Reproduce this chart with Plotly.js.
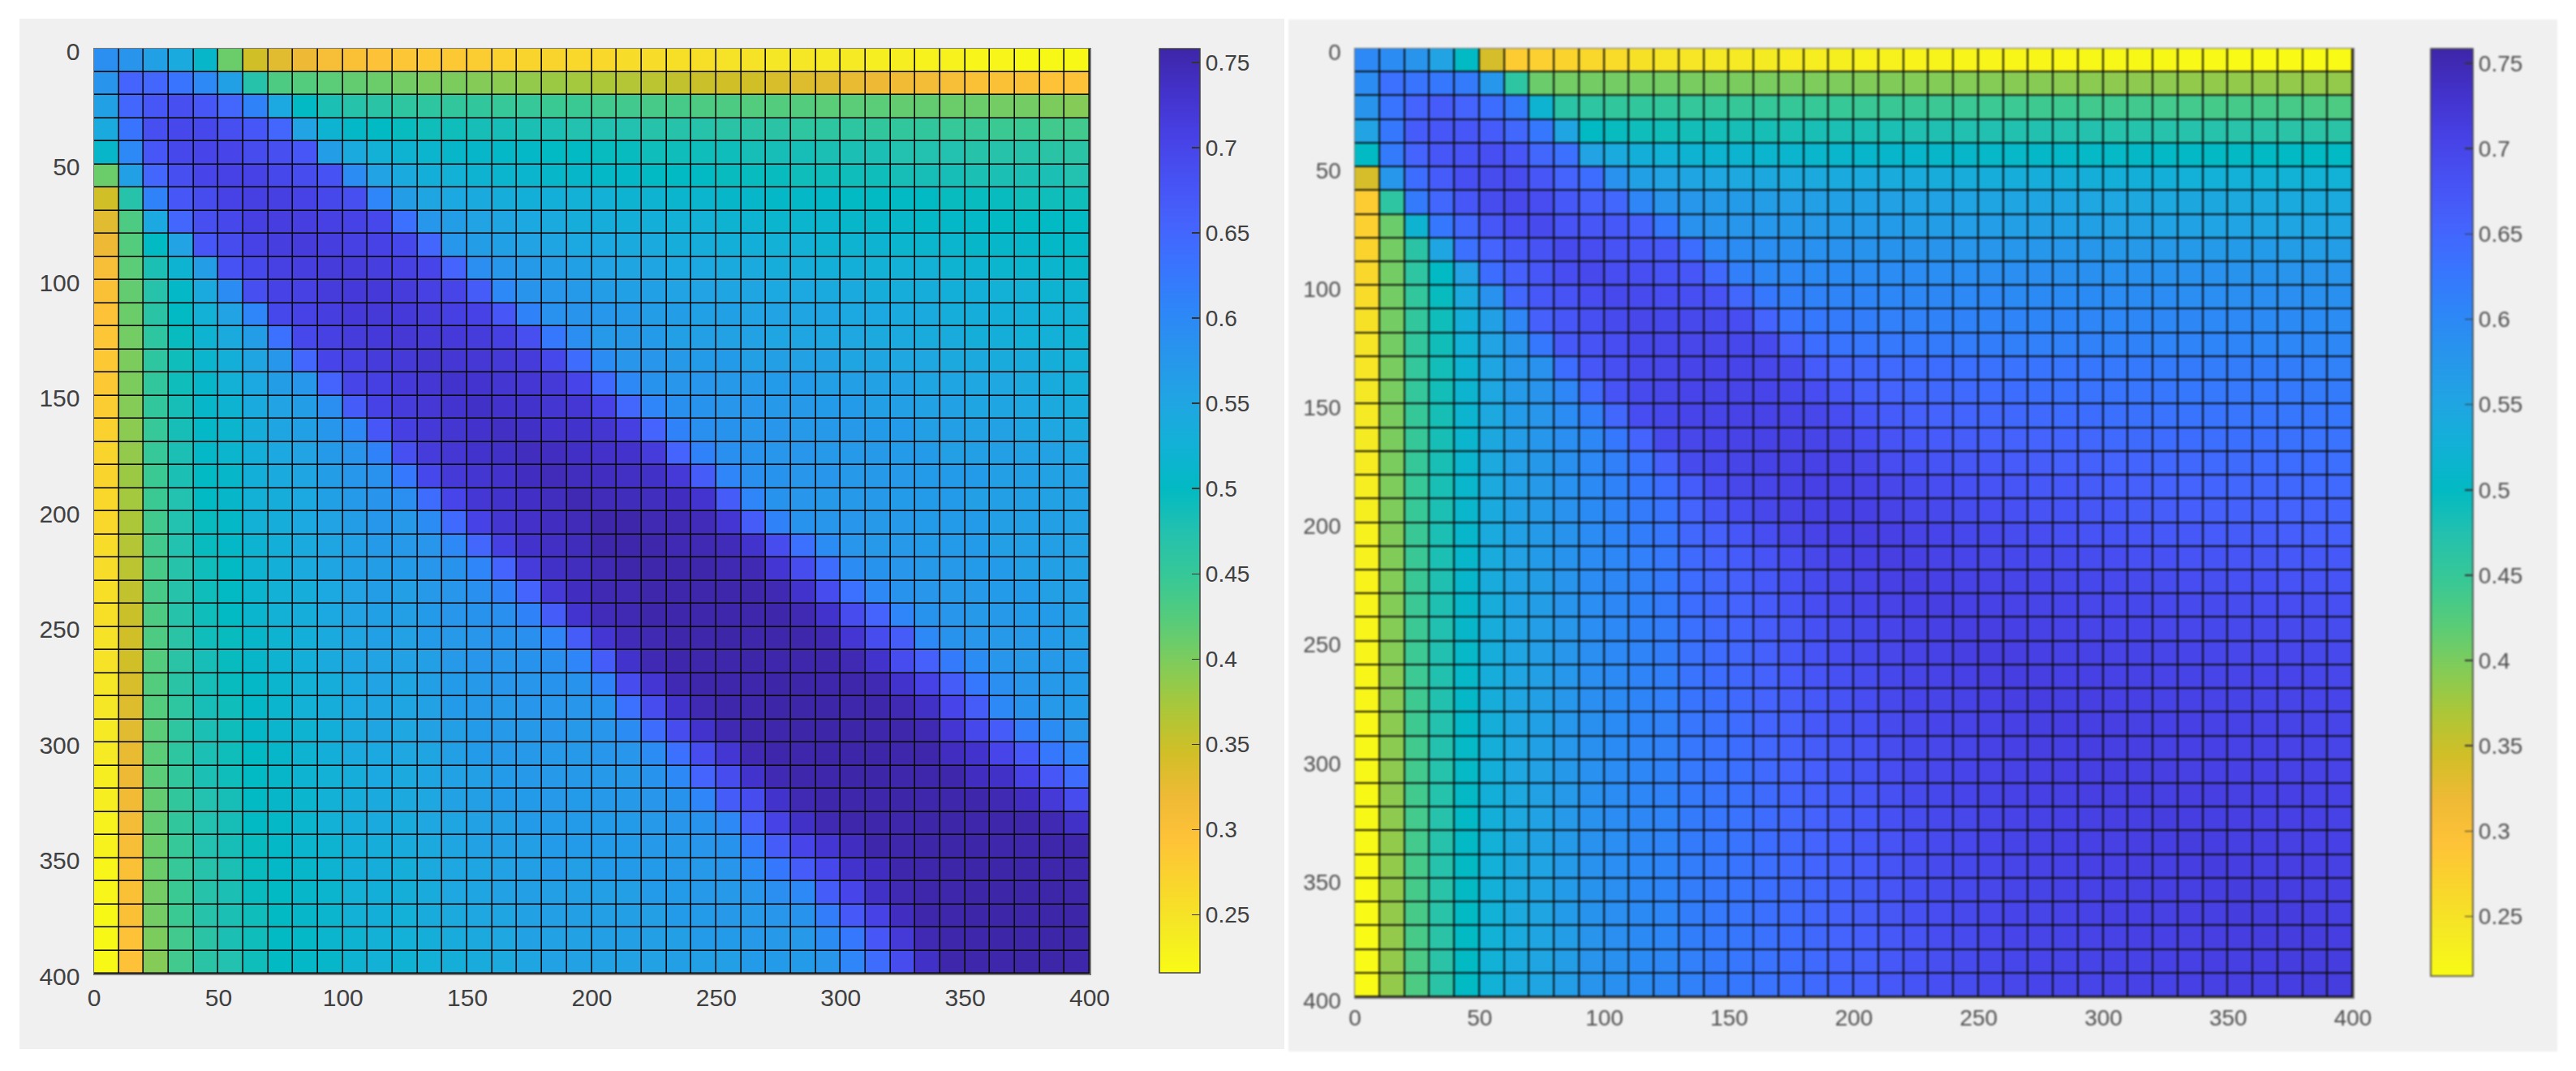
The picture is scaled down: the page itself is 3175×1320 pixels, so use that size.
<!DOCTYPE html>
<html><head><meta charset="utf-8">
<script src="https://cdn.plot.ly/plotly-3.0.1.min.js"></script>
<style>
html,body{margin:0;padding:0;background:#fff;width:3175px;height:1320px;overflow:hidden}
#a,#b{position:absolute}
#a{left:24px;top:23px;width:1559px;height:1270px}
#b{left:1588px;top:24px;width:1564px;height:1272px;filter:blur(1.1px)}
</style></head><body><div id="a"></div><div id="b"></div>
<script>
const leftUpper = [
[590,580,560,540,510,410,345,330,320,305,300,295,290,285,285,280,275,270,270,265,265,260,260,255,255,250,250,245,245,240,240,235,235,230,230,225,225,220,220,220],
[655,650,630,600,560,470,430,425,420,415,410,405,400,400,395,390,385,380,375,370,365,360,355,350,345,345,340,335,330,325,320,315,310,305,300,300,300,295,295],
[675,685,675,650,610,545,500,480,470,465,460,460,455,455,450,450,445,445,440,440,435,435,430,430,425,425,425,420,420,420,415,415,410,410,405,405,400,395],
[695,695,685,675,650,555,520,505,500,495,490,490,485,485,480,480,475,475,475,470,470,470,465,465,465,460,460,460,455,455,455,450,450,445,445,440,440],
[700,700,690,685,675,565,540,525,520,515,510,510,505,505,500,500,495,495,490,490,490,490,485,485,485,480,480,480,475,475,475,470,470,470,465,465],
[705,705,695,690,680,595,555,540,530,525,520,515,515,510,510,505,505,500,500,500,495,495,495,490,490,490,490,485,485,485,480,480,480,480,475],
[710,710,705,695,685,605,565,550,545,540,535,530,530,525,525,520,520,515,515,510,510,505,505,505,500,500,500,500,495,495,495,490,490,490],
[712,712,708,705,695,635,575,565,555,550,545,540,535,535,530,530,525,525,520,520,515,515,515,510,510,510,505,505,505,500,500,500,500],
[715,712,708,705,695,650,575,565,560,555,550,545,545,540,540,535,535,530,530,525,525,520,520,520,515,515,515,510,510,510,505,505],
[715,715,712,708,700,655,590,575,570,565,560,555,550,550,545,545,540,540,535,535,530,530,525,525,525,520,520,515,515,515,510],
[718,718,715,708,702,665,600,580,575,570,565,560,560,555,555,550,550,545,545,540,540,535,535,535,530,530,525,525,520,520],
[720,718,715,710,705,675,610,585,580,575,570,565,565,560,560,555,555,550,550,545,545,540,540,535,535,530,530,525,525],
[722,720,718,715,710,685,625,590,572,572,568,562,562,558,558,552,552,548,548,542,542,538,538,532,532,528,528,522],
[726,724,722,720,715,695,640,595,578,578,572,568,568,562,562,558,558,552,552,548,548,542,542,538,538,532,528],
[730,728,726,724,720,700,645,600,582,578,578,572,572,568,568,562,562,558,558,552,552,548,548,542,538,532],
[735,732,730,726,724,705,650,605,588,582,578,578,572,572,568,568,562,562,558,558,552,552,548,542,538],
[738,735,732,730,726,710,655,610,588,582,578,578,572,572,572,568,568,562,562,558,558,552,548,542],
[742,740,736,734,732,715,655,610,588,582,578,578,572,572,572,568,568,562,562,562,558,558,552],
[745,742,740,738,735,720,665,605,588,582,578,578,572,572,572,568,568,568,562,562,558,558],
[750,746,744,742,740,728,665,605,582,578,572,572,572,568,568,568,562,562,562,558,558],
[755,755,750,750,745,725,665,610,582,578,578,572,572,568,568,568,562,562,562,558],
[755,755,750,750,745,730,690,635,595,578,572,572,568,568,568,562,562,562,558],
[755,755,755,750,750,725,690,640,595,582,578,572,572,568,568,562,562,558],
[755,755,755,755,750,730,690,635,600,582,578,572,572,568,568,562,562],
[755,755,755,755,750,730,690,655,605,582,578,572,572,568,568,562],
[758,755,755,755,750,725,690,665,600,582,578,572,572,568,562],
[758,755,755,755,750,730,690,660,620,595,578,572,572,568],
[758,758,755,755,750,730,705,665,625,590,578,572,568],
[758,758,755,755,750,735,700,665,600,582,572,568],
[758,758,755,755,750,725,695,665,618,595,578],
[758,758,755,755,740,730,700,670,625,605],
[758,755,755,755,740,735,705,675,640],
[758,755,755,755,750,740,720,690],
[758,758,755,755,755,750,735],
[758,758,755,755,755,755],
[758,758,758,755,755],
[758,758,758,755],
[758,758,758],
[758,758],
[755]
];
const rightUpper = [
[600,595,580,555,500,340,280,275,270,265,258,252,248,245,242,240,238,236,234,232,230,228,226,225,224,223,222,222,221,220,220,219,219,218,218,217,217,216,216,216],
[635,630,625,620,575,460,410,405,405,405,405,405,402,402,400,400,400,398,398,396,396,395,395,394,394,392,392,390,390,388,388,388,386,386,386,385,385,385,385],
[655,665,655,640,620,520,465,460,455,455,455,452,452,450,450,450,448,448,446,446,446,445,445,444,444,442,442,440,440,440,438,438,436,436,435,435,432,430],
[675,675,665,650,625,550,500,495,490,488,486,486,484,484,482,482,480,480,480,478,478,476,476,475,475,474,474,472,472,470,470,470,468,468,466,466,465],
[680,685,675,650,635,555,540,530,525,520,518,516,515,514,512,512,510,510,510,508,508,506,506,505,505,504,504,503,502,502,501,501,500,500,500,500],
[690,690,675,655,640,585,560,555,550,548,546,544,542,542,540,540,538,538,536,536,535,534,534,532,532,530,530,530,528,528,528,526,526,526,525],
[695,688,670,660,650,605,580,575,570,568,566,564,562,560,560,558,556,556,554,552,552,550,550,548,548,546,546,544,544,542,542,540,540,540],
[692,680,675,670,660,625,585,580,578,576,574,572,570,570,568,566,566,564,564,562,562,560,560,558,558,556,556,554,554,552,552,550,550],
[692,688,680,675,670,640,605,595,590,588,586,584,582,582,580,580,578,578,576,576,575,575,574,572,572,570,570,568,568,566,566,565],
[695,688,685,680,675,645,615,602,600,598,596,595,594,594,592,592,590,590,590,588,588,586,586,585,584,584,582,582,580,580,580],
[695,692,688,685,680,650,625,615,610,608,606,604,602,602,600,600,598,598,596,596,595,594,594,592,592,590,590,590,588,588],
[698,696,695,692,688,655,630,625,620,616,614,612,610,610,608,608,606,606,605,604,604,602,602,600,600,598,598,596,595],
[698,698,698,696,692,660,640,630,626,624,622,620,618,616,615,614,612,612,610,610,608,608,606,606,604,604,602,602],
[700,700,700,698,692,665,655,650,645,642,640,636,634,632,630,628,626,624,622,620,620,618,618,616,616,614,612],
[702,702,700,696,688,675,660,655,650,648,645,642,640,636,634,632,630,628,626,625,624,624,622,622,620,620],
[704,704,702,698,688,675,665,660,655,652,650,648,645,642,640,636,634,632,630,630,628,628,626,626,625],
[705,705,702,698,688,680,672,668,664,660,656,654,652,650,646,644,642,640,638,636,636,634,632,632],
[706,706,704,698,688,682,678,674,670,668,664,660,658,655,652,650,648,646,644,642,640,640,638],
[708,706,704,698,692,688,684,680,676,672,670,666,662,660,656,654,652,650,650,648,646,645],
[708,708,704,698,694,690,688,684,680,678,674,670,666,664,662,660,658,656,655,654,652],
[710,708,704,700,696,694,690,688,684,680,678,675,672,670,668,666,664,662,660,660],
[710,708,704,700,698,696,694,692,690,688,684,682,680,678,676,674,672,670,670],
[710,708,706,704,702,700,698,696,694,692,690,688,686,684,682,680,680,678],
[710,708,706,704,702,700,698,697,696,695,693,692,690,688,688,686,685],
[710,710,708,706,704,702,700,700,698,697,696,695,694,692,692,690],
[712,710,708,706,705,704,703,702,700,699,698,697,697,696,695],
[712,710,708,707,706,705,704,703,702,701,700,700,699,698],
[712,711,710,708,707,706,705,704,703,702,701,700,700],
[712,711,710,709,708,707,706,705,704,703,702,701],
[712,711,710,709,708,707,706,705,704,703,702],
[712,711,710,709,708,708,707,706,705,704],
[712,711,710,710,709,708,707,706,705],
[713,712,711,710,709,708,707,706],
[713,712,711,710,709,708,707],
[713,712,711,710,710,709],
[714,713,712,711,710],
[714,713,712,711],
[714,713,712],
[714,713],
[714]
];
const axisTicks = [0,50,100,150,200,250,300,350,400];
const barTicks = [0.25,0.3,0.35,0.4,0.45,0.5,0.55,0.6,0.65,0.7,0.75];
// parula, dark end first
const parula = ['#3e26a8','#4332cb','#4741e5','#4752f4','#4563fd','#3875fe','#2d87f7','#2796eb','#20a5e3','#12b1d6','#02bac3','#24c1ae','#37c897','#57cc7a','#81cc59','#abc739','#d1bf27','#efba36','#fec338','#f9d62c','#f5e924','#f9fb15'];

const scale = parula.slice().reverse().map((c,i,a)=>[i/(a.length-1),c]);
const full = u => u.map((_,r)=>u.map((_,c)=> (c>=r ? u[r][c-r] : u[c][r-c])/1000));

function draw(id,u,o){
  Plotly.newPlot(id,[{type:'heatmap',z:full(u),x0:5,dx:10,y0:5,dy:10,colorscale:scale,zmin:o.zmin,zmax:o.zmax,
    xgap:o.gap,ygap:o.gap,hoverinfo:'skip',
    colorbar:{x:o.barX,xref:'paper',xanchor:'left',y:1,yref:'paper',yanchor:'top',lenmode:'pixels',len:o.barLen,
      thicknessmode:'pixels',thickness:o.barW,xpad:0,ypad:0,outlinecolor:'#404040',outlinewidth:1.5,
      tickmode:'array',tickvals:barTicks,ticks:'inside',ticklen:10,tickcolor:'#333',tickwidth:1.5,
      tickfont:{family:'Liberation Sans',size:o.barFont,color:o.txt},ticklabelposition:'outside'}}],
  {width:o.w,height:o.h,margin:{l:o.l,r:o.w-o.l-o.pw,t:o.t,b:o.h-o.t-o.ph,pad:0},
   paper_bgcolor:'#f0f0f0',plot_bgcolor:'#0a0a0a',
   xaxis:{range:[0,400],tickmode:'array',tickvals:axisTicks,showgrid:false,zeroline:false,ticks:'',showline:true,mirror:true,linecolor:'#777',linewidth:1.5,
     tickfont:{family:'Liberation Sans',size:o.font,color:o.txt},ticklabelstandoff:o.xoff},
   yaxis:{range:[400,0],tickmode:'array',tickvals:axisTicks,showgrid:false,zeroline:false,ticks:'',showline:true,mirror:true,linecolor:'#777',linewidth:1.5,
     tickfont:{family:'Liberation Sans',size:o.font,color:o.txt},ticklabelstandoff:o.yoff,ticklabelshift:o.yshift},
   showlegend:false},{displayModeBar:false,staticPlot:true});
}
draw('a',leftUpper,{zmin:0.216,zmax:0.758,gap:1.6,barX:1.07,barLen:1139,barW:50,barFont:28,font:30,txt:'#404040',
  w:1559,h:1270,l:92,t:37,pw:1227,ph:1140,xoff:2,yoff:10,yshift:-3});
draw('b',rightUpper,{zmin:0.215,zmax:0.7586,gap:1.8,barX:1.078,barLen:1143,barW:52,barFont:28,font:28,txt:'#505050',
  w:1564,h:1272,l:82,t:36,pw:1230,ph:1169,xoff:0,yoff:10,yshift:-4});
</script></body></html>
